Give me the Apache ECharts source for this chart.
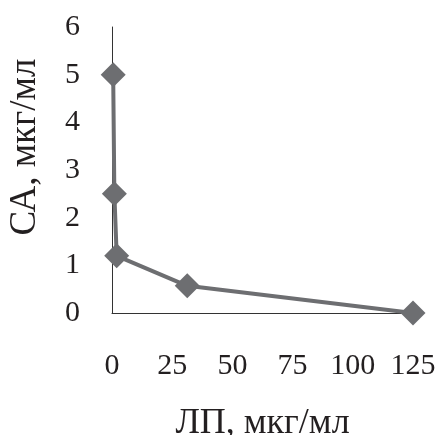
<!DOCTYPE html>
<html><head><meta charset="utf-8">
<script src="https://cdn.jsdelivr.net/npm/echarts@6/dist/echarts.min.js"></script>
<style>html,body{margin:0;padding:0;background:#fff}#c{width:439px;height:435px}</style>
</head><body><div id="c"></div>
<script>
const xValues = [0.49, 0.98, 1.95, 31.25, 125];
const yValues = [5.0, 2.5, 1.2, 0.57, 0.0];
const xName = 'ЛП, мкг/мл';
const yName = 'СА, мкг/мл';
const font = "'Liberation Serif', 'DejaVu Serif', serif";
const textColor = '#231f20';
const chart = echarts.init(document.getElementById('c'));
chart.setOption({
  animation: false,
  grid: {left: 112, right: 26, top: 27, bottom: 122, containLabel: false, outerBoundsMode: 'none'},
  xAxis: {
    type: 'value', min: 0, max: 125, interval: 25,
    name: xName, nameLocation: 'middle', nameGap: 93,
    nameTextStyle: {fontFamily: font, fontSize: 36, color: textColor},
    axisLine: {show: true, lineStyle: {color: '#333', width: 1}},
    axisTick: {show: false}, splitLine: {show: false},
    axisLabel: {fontFamily: font, fontSize: 30, color: textColor, margin: 38}
  },
  yAxis: {
    type: 'value', min: 0, max: 6, interval: 1,
    name: yName, nameLocation: 'middle', nameGap: 68,
    nameTextStyle: {fontFamily: font, fontSize: 37, color: textColor, padding: [0, 0, 0, 46]},
    axisLine: {show: true, lineStyle: {color: '#333', width: 1}},
    axisTick: {show: false}, splitLine: {show: false},
    axisLabel: {fontFamily: font, fontSize: 30, color: textColor, margin: 32}
  },
  series: [{
    type: 'line',
    data: xValues.map((x, i) => [x, yValues[i]]),
    symbol: 'diamond', symbolSize: 25,
    lineStyle: {color: '#6d6e71', width: 4},
    itemStyle: {color: '#6d6e71'}
  }]
});
</script></body></html>
